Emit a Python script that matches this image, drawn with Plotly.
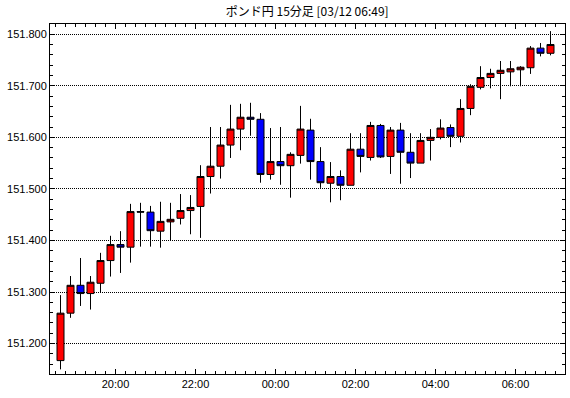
import pandas as pd
import plotly.graph_objects as go

# 15-minute candles, 03/11 18:30 .. 03/12 06:45
start_time = "2025-03-11 18:30"
n_candles = 50

open_ = [151.167, 151.259, 151.313, 151.297, 151.317, 151.361, 151.392, 151.387, 151.456, 151.455,
         151.418, 151.436, 151.443, 151.458, 151.466, 151.524, 151.544, 151.585, 151.616, 151.639,
         151.635, 151.528, 151.553, 151.545, 151.565, 151.614, 151.553, 151.511, 151.524, 151.507,
         151.577, 151.561, 151.623, 151.563, 151.614, 151.571, 151.550, 151.594, 151.600, 151.619,
         151.602, 151.656, 151.697, 151.716, 151.724, 151.727, 151.731, 151.735, 151.773, 151.763]
high = [151.294, 151.331, 151.366, 151.331, 151.376, 151.409, 151.418, 151.471, 151.473, 151.467,
        151.475, 151.473, 151.490, 151.488, 151.546, 151.620, 151.620, 151.663, 151.665, 151.667,
        151.647, 151.618, 151.620, 151.571, 151.661, 151.636, 151.581, 151.552, 151.536, 151.608,
        151.608, 151.630, 151.626, 151.620, 151.628, 151.608, 151.608, 151.616, 151.635, 151.625,
        151.674, 151.703, 151.738, 151.733, 151.748, 151.748, 151.738, 151.777, 151.783, 151.806]
low = [151.150, 151.250, 151.273, 151.266, 151.299, 151.330, 151.337, 151.357, 151.388, 151.388,
       151.386, 151.400, 151.431, 151.412, 151.405, 151.491, 151.520, 151.560, 151.575, 151.603,
       151.512, 151.518, 151.508, 151.483, 151.549, 151.518, 151.502, 151.474, 151.478, 151.507,
       151.532, 151.555, 151.560, 151.529, 151.510, 151.521, 151.550, 151.555, 151.596, 151.581,
       151.590, 151.643, 151.693, 151.695, 151.674, 151.699, 151.699, 151.723, 151.757, 151.759]
close = [151.259, 151.313, 151.297, 151.319, 151.361, 151.392, 151.387, 151.456, 151.455, 151.419,
         151.437, 151.441, 151.458, 151.464, 151.524, 151.544, 151.585, 151.616, 151.639, 151.635,
         151.528, 151.553, 151.545, 151.567, 151.616, 151.553, 151.512, 151.524, 151.507, 151.577,
         151.563, 151.623, 151.562, 151.614, 151.571, 151.550, 151.594, 151.600, 151.618, 151.602,
         151.656, 151.699, 151.716, 151.724, 151.730, 151.733, 151.736, 151.773, 151.763, 151.780]

title_text = "ポンド円 15分足 [03/12 06:49]"

times = pd.date_range(start_time, periods=n_candles, freq="15min")
x_centers = times + pd.Timedelta(minutes=7.5)

fig = go.Figure()
fig.add_trace(go.Candlestick(
    x=x_centers, open=open_, high=high, low=low, close=close,
    increasing=dict(line=dict(color="black", width=1), fillcolor="#ff0000"),
    decreasing=dict(line=dict(color="black", width=1), fillcolor="#0000ff"),
    whiskerwidth=0,
    hoverinfo="skip",
))

font_main = "Liberation Sans, Arial, sans-serif"

fig.update_layout(
    width=570, height=398,
    margin=dict(l=50, r=5, t=24, b=24, autoexpand=False),
    paper_bgcolor="white", plot_bgcolor="white",
    showlegend=False,
    boxgap=0.3, boxgroupgap=0,
    title=dict(text=title_text, x=0.539, xanchor="center", y=0.97, yanchor="middle",
               yref="container", automargin=False,
               font=dict(family="Noto Sans CJK JP", size=12, color="black")),
    font=dict(family=font_main, size=11, color="black"),
    hovermode=False,
)

fig.update_xaxes(
    type="date", automargin=False,
    range=["2025-03-11 18:21:45", "2025-03-12 07:14:15"],
    rangeslider=dict(visible=False),
    showgrid=False, zeroline=False,
    showline=True, linecolor="black", linewidth=1, mirror="allticks",
    ticks="inside", ticklen=5, tickcolor="black", tickwidth=1,
    tick0="2025-03-11 20:00", dtick=7200000, tickformat="%H:%M",
    tickfont=dict(family=font_main, size=11, color="black"),
    minor=dict(ticks="inside", ticklen=3, tickcolor="black", tickwidth=1,
               dtick=900000, tick0="2025-03-11 18:00", showgrid=False),
)

fig.update_yaxes(
    range=[151.141, 151.8198], automargin=False,
    showgrid=True, gridcolor="black", gridwidth=1, griddash="1px,1px",
    zeroline=False,
    showline=True, linecolor="black", linewidth=1, mirror="allticks",
    ticks="inside", ticklen=4, tickcolor="black", tickwidth=1,
    tick0=151.0, dtick=0.1, tickformat=".3f",
    tickfont=dict(family=font_main, size=11, color="black"),
    minor=dict(ticks="inside", ticklen=3, tickcolor="black", tickwidth=1,
               dtick=0.02, tick0=151.0, showgrid=False),
)

fig.write_html("out.html", config={"displayModeBar": False},
               post_script="document.body.style.margin='0';")
